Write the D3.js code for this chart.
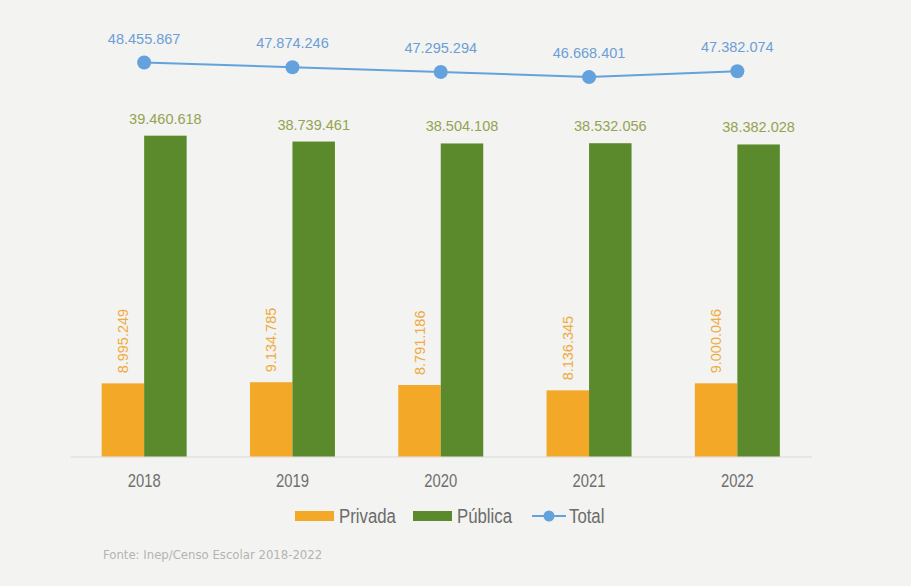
<!DOCTYPE html>
<html>
<head>
<meta charset="utf-8">
<script src="https://cdn.jsdelivr.net/npm/d3@7"></script>
<style>
  html, body { margin: 0; padding: 0; background: #f3f3f1; }
  svg { display: block; }
</style>
</head>
<body>
<div id="chart"></div>
<script>
// Matrículas na educação básica por rede (2018–2022)
const years = ["2018", "2019", "2020", "2021", "2022"];
const privada = [8995249, 9134785, 8791186, 8136345, 9000046];
const publica = [39460618, 38739461, 38504108, 38532056, 38382028];
const total = [48455867, 47874246, 47295294, 46668401, 47382074];
const seriesNames = ["Privada", "Pública"];
const legendLabels = ["Privada", "Pública", "Total"];
const sourceNote = "Fonte: Inep/Censo Escolar 2018-2022";

const W = 911, H = 586;
const colors = { Privada: "#f3a827", "Pública": "#5a8a2b", Total: "#64a2dd" };
const labelColors = { Privada: "#efab3f", "Pública": "#93a352", Total: "#6c9fd6" };
const fmt = v => d3.format(",")(v).replace(/,/g, ".");
const regular = "'Liberation Sans', Arial, sans-serif";
const condensed = "'DejaVu Sans Condensed', 'Liberation Sans', sans-serif";

// squeeze a text run horizontally to mimic a condensed face
function condense(sel, k) {
  sel.each(function () {
    const len = this.getComputedTextLength();
    d3.select(this).attr("textLength", len * k).attr("lengthAdjust", "spacingAndGlyphs");
  });
}

const svg = d3.select("#chart").append("svg").attr("width", W).attr("height", H);

const x0 = d3.scaleBand().domain(years).range([70, 811.5])
  .paddingInner(0.427).paddingOuter(0.2135);
const x1 = d3.scaleBand().domain(seriesNames).range([0, x0.bandwidth()]);
const y = d3.scaleLinear().domain([0, 50e6]).range([456.5, 50]);

const rows = years.map((yr, i) => ({ year: yr, Privada: privada[i], "Pública": publica[i], Total: total[i] }));

// baseline and year labels
const xAxis = svg.append("g").attr("transform", `translate(0,${y(0)})`)
  .call(d3.axisBottom(x0).tickSize(0).tickPadding(17));
xAxis.select(".domain").attr("stroke", "#d9d9d9").attr("stroke-width", 1);
xAxis.selectAll("text")
  .attr("font-family", regular).attr("font-size", 18.5).attr("fill", "#6e6e6e")
  .call(condense, 0.8);

// bars
const groups = svg.append("g").selectAll("g").data(rows).join("g")
  .attr("transform", d => `translate(${x0(d.year)},0)`);

groups.selectAll("rect").data(d => seriesNames.map(k => ({ key: k, value: d[k] }))).join("rect")
  .attr("x", d => x1(d.key))
  .attr("width", x1.bandwidth())
  .attr("y", d => y(d.value))
  .attr("height", d => y(0) - y(d.value))
  .attr("fill", d => colors[d.key]);

// Pública labels above the bars
groups.append("text")
  .attr("x", x1("Pública") + x1.bandwidth() / 2)
  .attr("y", d => y(d["Pública"]) - 12)
  .attr("text-anchor", "middle")
  .attr("font-family", regular).attr("font-size", 14.5)
  .attr("fill", labelColors["Pública"])
  .text(d => fmt(d["Pública"]));

// Privada labels, vertical above the bars
groups.append("text")
  .attr("transform", d => `translate(${x1("Privada") + x1.bandwidth() / 2},${y(d.Privada) - 10}) rotate(-90)`)
  .attr("dy", "0.36em")
  .attr("text-anchor", "start")
  .attr("font-family", regular).attr("font-size", 14.5)
  .attr("fill", labelColors.Privada)
  .text(d => fmt(d.Privada));

// Total line
const cx = d => x0(d.year) + x0.bandwidth() / 2;
svg.append("path").datum(rows)
  .attr("fill", "none").attr("stroke", colors.Total).attr("stroke-width", 2)
  .attr("d", d3.line().x(cx).y(d => y(d.Total)));

svg.append("g").selectAll("circle").data(rows).join("circle")
  .attr("cx", cx).attr("cy", d => y(d.Total)).attr("r", 7)
  .attr("fill", colors.Total);

svg.append("g").selectAll("text").data(rows).join("text")
  .attr("x", cx).attr("y", d => y(d.Total) - 19)
  .attr("text-anchor", "middle")
  .attr("font-family", regular).attr("font-size", 14.5)
  .attr("fill", labelColors.Total)
  .text(d => fmt(d.Total));

// legend
const legend = svg.append("g").attr("transform", "translate(0,516)");
const legendX = [295, 413, 532];
legendLabels.forEach((name, i) => {
  const g = legend.append("g").attr("transform", `translate(${legendX[i]},0)`);
  if (name === "Total") {
    g.append("line").attr("x1", 0).attr("x2", 34).attr("y1", 0).attr("y2", 0)
      .attr("stroke", colors.Total).attr("stroke-width", 2);
    g.append("circle").attr("cx", 17).attr("cy", 0).attr("r", 5.5).attr("fill", colors.Total);
  } else {
    g.append("rect").attr("x", 0).attr("y", -5).attr("width", 39).attr("height", 10)
      .attr("fill", colors[name]);
  }
  g.append("text")
    .attr("x", name === "Total" ? 37 : 44).attr("y", 0).attr("dy", "0.35em")
    .attr("font-family", regular).attr("font-size", 19.5).attr("fill", "#6b6b6b")
    .text(name)
    .call(condense, 0.86);
});

// source
svg.append("text")
  .attr("x", 103).attr("y", 559)
  .attr("font-family", condensed).attr("font-size", 13).attr("fill", "#b3b3b3")
  .text(sourceNote);
</script>
</body>
</html>
